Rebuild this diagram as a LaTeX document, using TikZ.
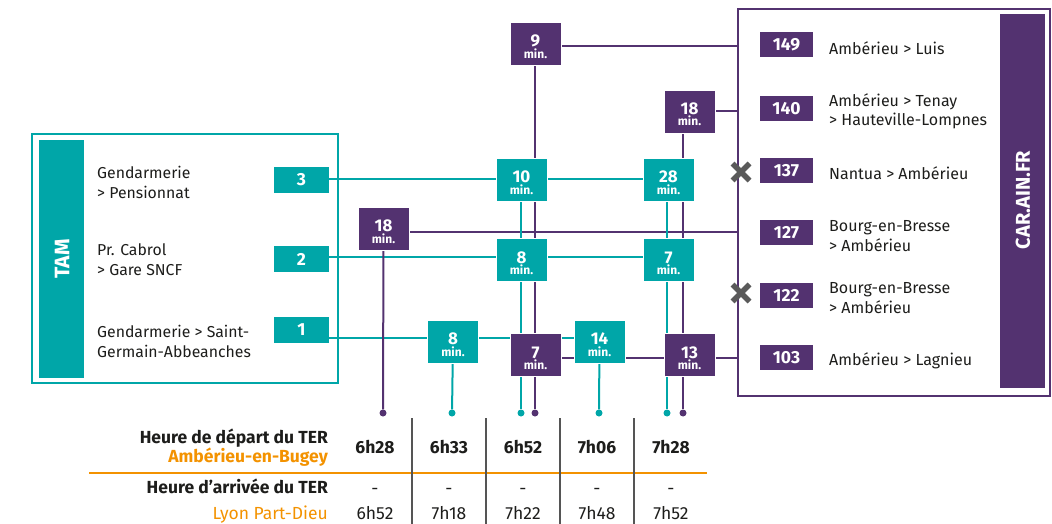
\documentclass[tikz,border=0pt]{standalone}
\usepackage{fontspec}
\setmainfont{Fira Sans}
\usetikzlibrary{backgrounds}
\definecolor{tealc}{HTML}{00A6A8}
\definecolor{purp}{HTML}{533270}
\definecolor{orng}{HTML}{F39200}
\definecolor{ink}{HTML}{1D1D1B}
\definecolor{xgray}{HTML}{5A5A5A}
\definecolor{sepgray}{HTML}{555555}
\newcommand\minnode[4]{%
  \node[#1] (#2) at (#3) {};
  \node[numtxt] (#2n) at ([yshift=-3pt]#2.center) {#4};
  \node[mintxt] (#2m) at ([yshift=-14.5pt]#2.center) {min.};
}
\begin{document}
\begin{tikzpicture}[x=1pt,y=-1pt,
 minbox/.style={minimum width=51pt,minimum height=43pt,inner sep=0pt,draw=white,line width=0.6pt},
 tminbox/.style={minbox,fill=tealc},
 pminbox/.style={minbox,fill=purp},
 numtxt/.style={anchor=base,inner sep=0pt,text=white,font=\fontsize{17}{17}\selectfont\bfseries},
 mintxt/.style={anchor=base,inner sep=0pt,text=white,font=\fontsize{12}{12}\selectfont\bfseries},
 routet/.style={fill=tealc,minimum width=55pt,minimum height=26pt,inner sep=0pt,text=white,font=\fontsize{17.5}{17.5}\selectfont\bfseries},
 routep/.style={fill=purp,minimum width=53pt,minimum height=25pt,inner sep=0pt,text=white,font=\fontsize{17.5}{17.5}\selectfont\bfseries},
 lbl/.style={anchor=west,align=left,inner sep=0pt,text=ink,font=\fontsize{15.8}{20}\selectfont},
 rlbl/.style={anchor=west,align=left,inner sep=0pt,text=ink,font=\fontsize{16}{20}\selectfont},
 hdr/.style={anchor=east,inner sep=0pt,text height=12pt,text depth=4pt,font=\fontsize{17.5}{17.5}\selectfont\bfseries},
 tim/.style={inner sep=0pt,text=ink,text height=12pt,text depth=4pt,font=\fontsize{17.5}{17.5}\selectfont},
 tl/.style={draw=tealc,line width=2pt},
 pl/.style={draw=purp,line width=2pt},
 tdot/.style={circle,inner sep=0pt,minimum size=7pt,fill=tealc},
 pdot/.style={circle,inner sep=0pt,minimum size=7pt,fill=purp},
 xmark/.style={draw=xgray,line width=5.5pt},
 sep/.style={draw=sepgray,line width=1.2pt}
]
\useasboundingbox (0,0) rectangle (1052,524);

% frames
\node[draw=tealc,line width=2pt,minimum width=306pt,minimum height=249pt,inner sep=0pt] (tam) at (185,258.5) {};
\node[fill=tealc,minimum width=45pt,minimum height=238pt,inner sep=0pt] (tambar) at (61.5,259) {};
\node[rotate=90,text=white,font=\fontsize{21}{21}\selectfont\bfseries] (tamtxt) at (62,259) {TAM};
\node[draw=purp,line width=2pt,minimum width=312pt,minimum height=387pt,inner sep=0pt] (car) at (894,202.5) {};
\node[fill=purp,minimum width=45pt,minimum height=374pt,inner sep=0pt] (carbar) at (1022.5,201) {};
\node[rotate=90,text=white,font=\fontsize{20}{20}\selectfont\bfseries] (cartxt) at (1023,200) {CAR.AIN.FR};

% TAM routes
\node[routet] (r3) at (301.5,180) {3};
\node[routet] (r2) at (301.5,259) {2};
\node[routet] (r1) at (301.5,330) {1};
\node[lbl] (l3) at (97,182) {Gendarmerie\\> Pensionnat};
\node[lbl] (l2) at (97,260) {Pr. Cabrol\\> Gare SNCF};
\node[lbl] (l1) at (97,341) {Gendarmerie > Saint-\\Germain-Abbeanches};

% CAR routes
\node[routep] (c149) at (786.5,45) {149};
\node[routep] (c140) at (786.5,109) {140};
\node[routep] (c137) at (786.5,170.5) {137};
\node[routep] (c127) at (786.5,232.5) {127};
\node[routep] (c122) at (786.5,295.5) {122};
\node[routep] (c103) at (786.5,357.5) {103};
\node[rlbl] (t149) at (829,48) {Ambérieu > Luis};
\node[rlbl,font=\fontsize{16}{19}\selectfont] (t140) at (829,111) {Ambérieu > Tenay\\> Hauteville-Lompnes};
\node[rlbl] (t137) at (829,173) {Nantua > Ambérieu};
\node[rlbl] (t127) at (829,236) {Bourg-en-Bresse\\> Ambérieu};
\node[rlbl] (t122) at (829,298) {Bourg-en-Bresse\\> Ambérieu};
\node[rlbl] (t103) at (829,361) {Ambérieu > Lagnieu};

% minute boxes
\minnode{pminbox}{m9}{535.5,44}{9}
\minnode{pminbox}{m18a}{689.5,111.5}{18}
\minnode{tminbox}{m10}{521.5,179.5}{10}
\minnode{tminbox}{m28}{668.5,179.5}{28}
\minnode{pminbox}{m18b}{383.5,228.5}{18}
\minnode{tminbox}{m8a}{521.5,260}{8}
\minnode{tminbox}{m7a}{668.5,260}{7}
\minnode{tminbox}{m8b}{453,341.5}{8}
\minnode{pminbox}{m7b}{535.5,355}{7}
\minnode{tminbox}{m14}{599.5,341.5}{14}
\minnode{pminbox}{m13}{689.5,355}{13}

% dots
\node[pdot] (d1) at (383,413) {};
\node[tdot] (d2) at (452,413) {};
\node[tdot] (d3) at (521,413) {};
\node[pdot] (d4) at (535,413) {};
\node[tdot] (d5) at (599,413) {};
\node[tdot] (d6) at (667,413) {};
\node[pdot] (d7) at (683,413) {};

% connectors behind boxes
\begin{pgfonlayer}{background}
\coordinate (y46) at (0,46);
\coordinate (y232) at (0,232);
\coordinate (y358) at (0,358);
\coordinate (y179) at (0,179);
\coordinate (y257) at (0,257);
\coordinate (y338) at (0,338);
\coordinate (y111) at (0,111);
% purple horizontals
\draw[pl] (m9 |- y46) -- (car.west |- y46);
\draw[pl] (m18a |- y111) -- (car.west |- y111);
\draw[pl] (m18b |- y232) -- (car.west |- y232);
\draw[pl] (m7b |- y358) -- (car.west |- y358);
% teal horizontals
\draw[tl] (r3.east |- y179) -- (m28 |- y179);
\draw[tl] (r2.east |- y257) -- (m7a |- y257);
\draw[tl] (r1.east |- y338) -- (m14 |- y338);
% verticals
\draw[pl] (m18b) -- (d1);
\draw[tl] (m8b) -- (d2);
\draw[tl] (m10 -| d3) -- (d3);
\draw[pl] (m9 -| d4) -- (d4);
\draw[tl] (m14) -- (d5);
\draw[tl] (m28 -| d6) -- (d6);
\draw[pl] (m18a -| d7) -- (d7);
\end{pgfonlayer}

% crosses
\coordinate (x1) at (741,172);
\coordinate (x2) at (741,293);
\foreach \c in {x1,x2}{
  \draw[xmark] (\c) ++(-8.5,-8.5) -- ++(17,17);
  \draw[xmark] (\c) ++(-8.5,8.5) -- ++(17,-17);
}

% table
\node[hdr,text=ink] (h1) at (328,439) {Heure de départ du TER};
\node[hdr,text=orng] (h2) at (328,458) {Ambérieu-en-Bugey};
\node[hdr,text=ink] (h3) at (328,489) {Heure d’arrivée du TER};
\node[hdr,text=orng,font=\fontsize{17.5}{17.5}\selectfont] (h4) at (328,515) {Lyon Part-Dieu};
\coordinate (ol) at (89,473);
\coordinate (or) at (707,473);
\draw[draw=orng,line width=2pt] (ol) -- (or);
\foreach \x in {412,486,560,634}{
  \coordinate (sa\x) at (\x,418);
  \coordinate (sb\x) at (\x,524);
  \draw[sep] (sa\x) -- (sb\x);
}
\foreach \x/\d/\a [count=\i] in {375/6h28/6h52,449/6h33/7h18,523/6h52/7h22,597/7h06/7h48,671/7h28/7h52}{
  \node[tim,font=\fontsize{17.5}{17.5}\selectfont\bfseries] (dep\i) at (\x,449) {\d};
  \node[tim] (dash\i) at (\x,490) {-};
  \node[tim] (arr\i) at (\x,515) {\a};
}
\end{tikzpicture}
\end{document}
